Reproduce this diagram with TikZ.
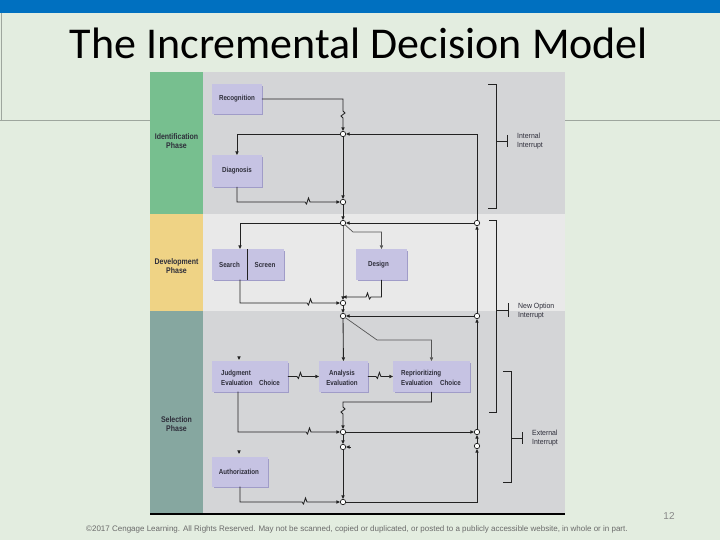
\documentclass[tikz,border=0pt]{standalone}
\usepackage{fontspec}
\setmainfont{Liberation Sans}
\newfontfamily\titlefont{Carlito}
\newfontfamily\condfont[FakeStretch=0.85]{Liberation Sans}
\newfontfamily\midfont[FakeStretch=0.92]{Liberation Sans}
\usetikzlibrary{arrows.meta,calc,shadows}
\definecolor{slidebg}{HTML}{E3EDE0}
\definecolor{topbar}{HTML}{0070C0}
\definecolor{phgreen}{HTML}{77BF8F}
\definecolor{phyellow}{HTML}{EFD385}
\definecolor{phteal}{HTML}{86A7A0}
\definecolor{panelgray}{HTML}{D4D5D7}
\definecolor{panellight}{HTML}{E9E9E9}
\definecolor{boxfill}{HTML}{C6C3E3}
\definecolor{boxshadow}{HTML}{A09CC8}
\definecolor{boxtext}{HTML}{2E2E3A}
\definecolor{linec}{HTML}{222222}
\definecolor{lineg}{HTML}{555555}
\definecolor{rulegray}{HTML}{9EA69E}
\definecolor{foottext}{HTML}{6A6A6A}
\begin{document}
\begin{tikzpicture}[x=1pt,y=-1pt,
  ln/.style={draw=linec, line width=0.85pt},
  lng/.style={draw=lineg, line width=0.7pt},
  arr/.style={-{Triangle[length=3.6pt,width=3.2pt]}},
  dot/.style={circle, draw=linec, fill=white, inner sep=0pt, minimum size=5.4pt, line width=0.7pt},
  box/.style={fill=boxfill, inner sep=0pt, anchor=north west,
    drop shadow={shadow xshift=1.6pt, shadow yshift=-1.6pt, fill=boxshadow, opacity=1}},
  btxt/.style={font=\condfont\bfseries\fontsize{7.3}{8}\selectfont, text=boxtext, inner sep=0pt},
  ptxt/.style={font=\condfont\bfseries\fontsize{8.2}{9.8}\selectfont, text=boxtext, align=center, inner sep=0pt},
  itxt/.style={font=\midfont\fontsize{7.5}{9}\selectfont, text=boxtext, align=left, anchor=west, inner sep=0pt},
  zh/.style={insert path={-- ++(1.5,2) -- ++(2,-6) -- ++(1.5,4)}},
  zhl/.style={insert path={-- ++(-1.5,2) -- ++(-2,-6) -- ++(-1.5,4)}},
  zv/.style={insert path={-- ++(2,2) -- ++(-4,3) -- ++(2,2)}},
  brk/.style={draw=linec, line width=0.8pt}
]
\useasboundingbox (0,0) rectangle (720,540);
% slide background
\fill[slidebg] (0,0) rectangle (720,540);
\fill[topbar] (0,0) rectangle (720,13);
\draw[rulegray, line width=0.6pt] (1,13) -- (1,120);
\draw[rulegray, line width=0.8pt] (0,120) -- (720,120);
% title
\node[font=\titlefont\fontsize{44}{44}\selectfont, anchor=base, inner sep=0pt] (title) at (359,59) {The Incremental Decision Model};
% panels
\fill[phgreen] (150,72) rectangle (203,214);
\fill[phyellow] (150,214) rectangle (203,311);
\fill[phteal] (150,311) rectangle (203,514);
\fill[panelgray] (203,72) rectangle (565,214);
\fill[panellight] (203,214) rectangle (565,311);
\fill[panelgray] (203,311) rectangle (565,514);
\draw[black, line width=1.1pt] (150,514) -- (565,514);
% phase labels
\node[ptxt] (ph1) at (176.5,141) {Identification\\Phase};
\node[ptxt] (ph2) at (176.5,266) {Development\\Phase};
\node[ptxt] (ph3) at (176.5,424) {Selection\\Phase};
% boxes
\node[box, minimum width=49.5pt, minimum height=29.5pt] (rec) at (212,84) {};
\node[btxt] at (rec.center) {Recognition};
\node[box, minimum width=49.5pt, minimum height=31.5pt] (dia) at (212,155) {};
\node[btxt] at (dia.center) {Diagnosis};
\node[box, minimum width=71.5pt, minimum height=30.5pt] (ss) at (212,249) {};
\draw[linec, line width=0.8pt] (247,249) -- (247,279.5);
\node[btxt] (search) at (229.5,265) {Search};
\node[btxt] (screen) at (265,265) {Screen};
\node[box, minimum width=50.5pt, minimum height=30.5pt] (des) at (356,249) {};
\node[btxt] at ($(des.center)+(-3,0)$) {Design};
\node[box, minimum width=75.5pt, minimum height=30.5pt] (jud) at (212,361) {};
\node[btxt, anchor=base west] at (221,375) {Judgment};
\node[btxt, anchor=base west] at (221,385) {Evaluation};
\node[btxt, anchor=base west] at (259,385) {Choice};
\node[box, minimum width=48.5pt, minimum height=30.5pt] (ana) at (319,361) {};
\node[btxt, anchor=base] at (342,375) {Analysis};
\node[btxt, anchor=base] at (342,385) {Evaluation};
\node[box, minimum width=76.5pt, minimum height=30.5pt] (rep) at (393,361) {};
\node[btxt, anchor=base west] at (401,375) {Reprioritizing};
\node[btxt, anchor=base west] at (401,385) {Evaluation};
\node[btxt, anchor=base west] at (440,385) {Choice};
\node[box, minimum width=55.5pt, minimum height=29.5pt] (aut) at (212,457) {};
\node[btxt] at ($(aut.center)+(-1,0)$) {Authorization};
% junction dots
\node[dot] (n1) at (343,134) {};
\node[dot] (n2) at (343,202) {};
\node[dot] (n3) at (343,223) {};
\node[dot] (n4) at (343,303) {};
\node[dot] (n5) at (343,316) {};
\node[dot] (n6) at (343,432) {};
\node[dot] (n7) at (343,447) {};
\node[dot] (n8) at (343,502) {};
\node[dot] (r3) at (477,223) {};
\node[dot] (r5) at (477,316) {};
\node[dot] (r6) at (477,432) {};
\node[dot] (r7) at (477,446) {};
\coordinate (ssin) at (240,249);
\coordinate (ssout) at (240,279.5);
\coordinate (judin) at (239,361);
\coordinate (judout) at (238,391.5);
\coordinate (autin) at (239,457);
\coordinate (autout) at (240,486.5);
\coordinate (djoin) at (343,297);
% connectors
\draw[ln,arr] (rec.east) -| (343,111) [zv] -- (n1);
\draw[ln,arr] (n1) -| (dia.north);
\draw[ln,arr] (n1) -- (n2);
\draw[ln,arr] (dia.south) |- (305,202) [zh] -- (n2);
\draw[ln,arr] (n2) -- (n3);
\draw[ln,arr] (r3) -- (n3);
\draw[ln,arr] (n3) -| (ssin);
\draw[lng,arr] (n3) -- (353,232) -| (des.north);
\draw[ln,arr] (n3) -- (djoin) -- (n4);
\draw[ln,arr] (ssout) |- (307,303) [zh] -- (n4);
\draw[ln,arr] (des.south) |- (371,297) [zhl] -- (djoin);
\draw[ln,arr] (n4) -- (n5);
\draw[ln,arr] (r5) -- (n5);
\draw[ln,arr] (n5) -- (ana.north);
\draw[lng,arr] (n5) -- (377,340) -| (rep.north);
\draw[ln,arr] (jud.east) -- ++(9,0) [zh] -- (ana.west);
\draw[ln,arr] (ana.east) -- ++(8,0) [zh] -- (rep.west);
\draw[ln,arr] (rep.south) |- (343,402) -- (343,407) [zv] -- (n6);
\draw[ln,arr] (judout) |- (306,432) [zh] -- (n6);
\draw[ln,arr] (n6) -- (r6);
\draw[ln,arr] (n6) -- (n7);
\draw[ln,arr] ($(n7.east)+(4.5,0)$) -- (n7);
\draw[ln,arr] (n7) -- (n8);
\draw[ln,arr] (autout) |- (302,502) [zh] -- (n8);
\draw[ln,arr] (n8) -| (r7);
\draw[ln,arr] (r7) -- (r6);
\draw[ln,arr] (r6) -- (r5);
\draw[ln,arr] (r5) -- (r3);
\draw[ln,arr] (r3) |- (n1);
\draw[ln,arr] ($(judin)+(0,-4.5)$) -- ($(judin)+(0,-1)$);
\draw[ln,arr] ($(autin)+(0,-4.5)$) -- ($(autin)+(0,-3)$);
% brackets
\draw[brk] (488,84) -- (496,84) -- (496,208) -- (488,208);
\draw[brk] (496,141) -- (507,141);
\draw[brk] (507,135) -- (507,147);
\node[itxt] (ii) at (517,141) {Internal\\Interrupt};
\draw[brk] (489,220) -- (496,220) -- (496,412) -- (489,412);
\draw[brk] (496,310) -- (508,310);
\draw[brk] (508,303) -- (508,317);
\node[itxt] (no) at (518,311) {New Option\\Interrupt};
\draw[brk] (503,371) -- (511,371) -- (511,482) -- (503,482);
\draw[brk] (511,438) -- (522,438);
\draw[brk] (522,432) -- (522,444);
\node[itxt] (ei) at (532,438) {External\\Interrupt};
% footer
\node[font=\fontsize{8}{9}\selectfont, text=foottext, anchor=base west, inner sep=0pt] (foot) at (86,531) {\textcopyright 2017 Cengage Learning. All Rights Reserved. May not be scanned, copied or duplicated, or posted to a publicly accessible website, in whole or in part.};
\node[font=\fontsize{10}{10}\selectfont, text=foottext!80, anchor=base, inner sep=0pt] (pg) at (669,519) {12};
\end{tikzpicture}
\end{document}
